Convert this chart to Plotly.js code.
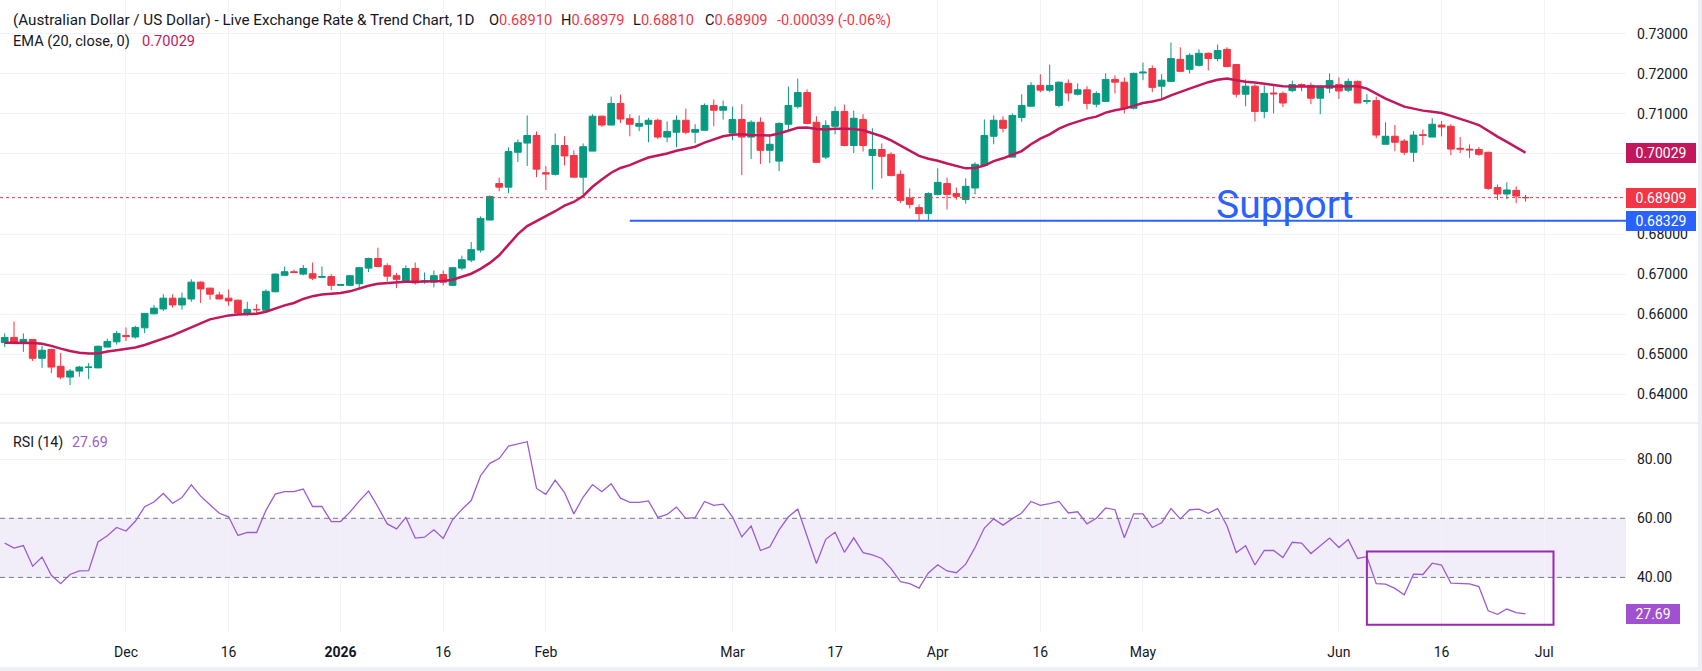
<!DOCTYPE html>
<html>
<head>
<meta charset="utf-8">
<script src="https://cdn.plot.ly/plotly-3.0.1.min.js"></script>
<style>
  html, body { margin: 0; padding: 0; background: #ffffff; }
  #chart { width: 1702px; height: 671px; }
</style>
</head>
<body>
<div id="chart"></div>
<script>
// AUD/USD daily sessions, first bar 2025-11-12 (FX trades every weekday)
const firstSession = '2025-11-12';

const opens = [
  0.6529,0.6542,0.6529,0.6537,0.6490,0.6512,0.6470,0.6443,0.6458,0.6467,
  0.6466,0.6518,0.6531,0.6547,0.6543,0.6566,0.6601,0.6613,0.6640,0.6623,
  0.6638,0.6680,0.6665,0.6648,0.6640,0.6635,0.6602,0.6612,0.6610,0.6656,
  0.6697,0.6706,0.6700,0.6701,0.6692,0.6694,0.6672,0.6672,0.6676,0.6715,
  0.6739,0.6721,0.6696,0.6680,0.6714,0.6681,0.6680,0.6699,0.6672,0.6715,
  0.6735,0.6760,0.6835,0.6926,0.6917,0.7004,0.7027,0.7046,0.6953,0.6949,
  0.7021,0.6996,0.6942,0.7007,0.7094,0.7072,0.7126,0.7088,0.7069,0.7074,
  0.7084,0.7042,0.7054,0.7084,0.7054,0.7059,0.7121,0.7109,0.7052,0.7086,
  0.7042,0.7079,0.7009,0.6982,0.7074,0.7118,0.7153,0.7079,0.6992,0.7069,
  0.7106,0.7021,0.7086,0.6996,0.7011,0.6999,0.6949,0.6890,0.6866,0.6851,
  0.6899,0.6926,0.6901,0.6886,0.6915,0.6971,0.7044,0.7084,0.6992,0.7091,
  0.7119,0.7171,0.7159,0.7121,0.7176,0.7149,0.7160,0.7124,0.7131,0.7186,
  0.7179,0.7114,0.7202,0.7213,0.7169,0.7181,0.7236,0.7211,0.7221,0.7251,
  0.7238,0.7261,0.7223,0.7149,0.7169,0.7106,0.7152,0.7151,0.7158,0.7173,
  0.7171,0.7139,0.7164,0.7173,0.7159,0.7181,0.7131,0.7133,0.7024,0.7044,
  0.7032,0.7004,0.7048,0.7042,0.7072,0.7069,0.7014,0.7012,0.7011,0.7004,
  0.6916,0.6900,0.6909,0.68910
];

const highs = [
  0.6552,0.6582,0.6552,0.6538,0.6521,0.6514,0.6503,0.6463,0.6471,0.6478,
  0.6522,0.6539,0.6558,0.6567,0.6571,0.6603,0.6623,0.6650,0.6650,0.6654,
  0.6687,0.6682,0.6666,0.6656,0.6662,0.6636,0.6631,0.6625,0.6662,0.6702,
  0.6719,0.6711,0.6723,0.6729,0.6719,0.6700,0.6675,0.6698,0.6718,0.6741,
  0.6766,0.6727,0.6703,0.6722,0.6729,0.6704,0.6709,0.6709,0.6716,0.6746,
  0.6780,0.6844,0.6896,0.6941,0.7016,0.7036,0.7096,0.7056,0.6970,0.7051,
  0.7044,0.7009,0.7026,0.7099,0.7096,0.7143,0.7148,0.7099,0.7096,0.7090,
  0.7088,0.7081,0.7096,0.7113,0.7074,0.7126,0.7136,0.7133,0.7118,0.7124,
  0.7084,0.7091,0.7048,0.7079,0.7168,0.7188,0.7161,0.7094,0.7084,0.7118,
  0.7123,0.7108,0.7099,0.7064,0.7026,0.7004,0.6959,0.6914,0.6874,0.6904,
  0.6964,0.6941,0.6916,0.6939,0.6979,0.7086,0.7096,0.7094,0.7101,0.7149,
  0.7179,0.7199,0.7223,0.7181,0.7186,0.7176,0.7169,0.7156,0.7201,0.7196,
  0.7191,0.7203,0.7228,0.7221,0.7199,0.7278,0.7266,0.7251,0.7261,0.7253,
  0.7273,0.7266,0.7223,0.7186,0.7174,0.7171,0.7169,0.7156,0.7183,0.7176,
  0.7178,0.7171,0.7201,0.7191,0.7188,0.7183,0.7149,0.7143,0.7079,0.7072,
  0.7037,0.7057,0.7061,0.7089,0.7082,0.7074,0.7042,0.7024,0.7017,0.7006,
  0.6924,0.6929,0.6919,0.68979
];

const lows = [
  0.6518,0.6525,0.6506,0.6483,0.6466,0.6453,0.6438,0.6423,0.6444,0.6438,
  0.6465,0.6517,0.6524,0.6533,0.6539,0.6553,0.6600,0.6608,0.6616,0.6611,
  0.6631,0.6628,0.6636,0.6637,0.6621,0.6600,0.6596,0.6602,0.6609,0.6655,
  0.6696,0.6703,0.6697,0.6685,0.6690,0.6660,0.6671,0.6670,0.6665,0.6705,
  0.6717,0.6682,0.6665,0.6679,0.6674,0.6676,0.6667,0.6672,0.6670,0.6710,
  0.6730,0.6754,0.6834,0.6907,0.6902,0.6980,0.6970,0.6942,0.6910,0.6946,
  0.6971,0.6942,0.6900,0.7007,0.7067,0.7072,0.7077,0.7044,0.7057,0.7029,
  0.7037,0.7029,0.7017,0.7049,0.7027,0.7059,0.7069,0.7086,0.7034,0.6947,
  0.6987,0.6975,0.6977,0.6957,0.7056,0.7113,0.7074,0.6979,0.6987,0.7049,
  0.7019,0.7002,0.7006,0.6911,0.6939,0.6944,0.6877,0.6864,0.6834,0.6834,
  0.6896,0.6861,0.6886,0.6876,0.6899,0.6969,0.7024,0.7054,0.6992,0.7080,
  0.7119,0.7154,0.7154,0.7116,0.7131,0.7146,0.7111,0.7116,0.7131,0.7151,
  0.7101,0.7111,0.7184,0.7154,0.7136,0.7181,0.7206,0.7201,0.7218,0.7208,
  0.7231,0.7216,0.7141,0.7119,0.7081,0.7089,0.7101,0.7117,0.7154,0.7156,
  0.7124,0.7099,0.7152,0.7137,0.7154,0.7127,0.7124,0.7039,0.7024,0.7007,
  0.6997,0.6980,0.7022,0.7042,0.7044,0.6997,0.7002,0.6990,0.6995,0.6910,
  0.6885,0.6887,0.6877,0.68810
];

const closes = [
  0.6542,0.6529,0.6537,0.6490,0.6510,0.6468,0.6443,0.6458,0.6468,0.6468,
  0.6520,0.6532,0.6552,0.6544,0.6567,0.6602,0.6615,0.6640,0.6623,0.6640,
  0.6680,0.6663,0.6650,0.6638,0.6633,0.6603,0.6612,0.6611,0.6657,0.6700,
  0.6706,0.6704,0.6714,0.6690,0.6694,0.6672,0.6674,0.6696,0.6716,0.6739,
  0.6719,0.6695,0.6687,0.6714,0.6678,0.6683,0.6696,0.6680,0.6716,0.6736,
  0.6761,0.6839,0.6894,0.6917,0.7006,0.7028,0.7046,0.6962,0.6950,0.7021,
  0.6995,0.6942,0.7018,0.7094,0.7072,0.7126,0.7087,0.7074,0.7076,0.7084,
  0.7042,0.7056,0.7084,0.7054,0.7061,0.7121,0.7109,0.7118,0.7086,0.7042,
  0.7079,0.7009,0.7024,0.7076,0.7121,0.7153,0.7076,0.6979,0.7071,0.7106,
  0.7021,0.7089,0.7021,0.7011,0.6994,0.6946,0.6884,0.6874,0.6851,0.6901,
  0.6929,0.6899,0.6894,0.6919,0.6974,0.7046,0.7084,0.7064,0.7096,0.7121,
  0.7171,0.7159,0.7171,0.7179,0.7152,0.7160,0.7126,0.7151,0.7186,0.7179,
  0.7114,0.7201,0.7204,0.7166,0.7184,0.7238,0.7206,0.7246,0.7251,0.7238,
  0.7258,0.7218,0.7149,0.7169,0.7106,0.7151,0.7150,0.7127,0.7173,0.7168,
  0.7139,0.7168,0.7183,0.7157,0.7181,0.7127,0.7133,0.7047,0.7044,0.7029,
  0.7004,0.7047,0.7046,0.7074,0.7067,0.7012,0.7012,0.7010,0.6999,0.6914,
  0.6900,0.6910,0.68948,0.68909
];

// EMA(20) of the close
const ema20 = [
  0.6529,0.6529,0.6529,0.6528,0.6526,0.6521,0.6514,0.6508,0.6504,0.6502,
  0.6502,0.6507,0.6510,0.6513,0.6517,0.6523,0.6531,0.6539,0.6547,0.6557,
  0.6567,0.6579,0.6587,0.6592,0.6597,0.6599,0.6600,0.6601,0.6606,0.6614,
  0.6622,0.6628,0.6638,0.6645,0.6649,0.6651,0.6653,0.6657,0.6664,0.6671,
  0.6676,0.6678,0.6679,0.6681,0.6681,0.6682,0.6682,0.6683,0.6686,0.6693,
  0.6701,0.6713,0.6728,0.6747,0.6773,0.6800,0.6820,0.6832,0.6845,0.6857,
  0.6871,0.6880,0.6895,0.6918,0.6936,0.6953,0.6965,0.6972,0.6982,0.6991,
  0.6996,0.7001,0.7008,0.7013,0.7018,0.7028,0.7036,0.7044,0.7048,0.7049,
  0.7047,0.7046,0.7046,0.7051,0.7059,0.7065,0.7066,0.7062,0.7061,0.7063,
  0.7063,0.7062,0.7059,0.7051,0.7044,0.7034,0.7021,0.7008,0.6995,0.6988,
  0.6983,0.6976,0.6970,0.6964,0.6965,0.6971,0.6982,0.6989,0.6998,0.7007,
  0.7024,0.7038,0.7049,0.7063,0.7073,0.7081,0.7088,0.7093,0.7103,0.7109,
  0.7113,0.7120,0.7127,0.7131,0.7136,0.7146,0.7155,0.7163,0.7171,0.7179,
  0.7185,0.7188,0.7184,0.7180,0.7178,0.7175,0.7173,0.7169,0.7168,0.7168,
  0.7167,0.7167,0.7168,0.7168,0.7169,0.7169,0.7163,0.7150,0.7138,0.7128,
  0.7118,0.7113,0.7108,0.7105,0.7102,0.7095,0.7088,0.7080,0.7072,0.7057,
  0.7043,0.7030,0.7017,0.70029
];

// RSI(14)
const rsi14 = [
  51.6,49.9,50.8,43.8,46.9,40.7,37.9,41.0,42.2,42.3,
  52.0,54.1,56.9,55.7,59.0,63.9,65.5,68.4,65.1,67.0,
  71.3,67.5,64.6,61.7,60.5,54.2,55.2,55.2,62.7,68.2,
  69.0,69.0,69.9,64.0,64.0,58.9,58.9,62.1,65.8,69.2,
  63.9,58.1,56.4,60.3,53.3,53.6,56.1,53.2,59.5,63.0,
  66.0,74.4,78.6,80.2,84.4,85.2,85.9,70.1,68.1,72.9,
  68.7,61.5,67.2,71.4,69.0,71.7,66.8,65.4,65.4,65.9,
  60.3,61.3,63.8,60.0,60.2,65.7,64.4,64.8,60.5,53.7,
  57.4,49.1,50.3,56.1,60.5,63.1,53.8,44.7,52.9,55.3,
  48.5,53.4,48.4,47.6,46.4,43.0,38.6,37.9,36.4,41.5,
  44.3,42.2,41.6,44.5,50.1,56.7,59.8,57.7,59.9,61.8,
  65.7,64.4,65.0,65.7,61.8,62.2,58.1,60.0,63.5,62.9,
  53.4,61.5,61.5,56.9,58.5,63.3,59.8,62.9,63.1,61.7,
  63.3,57.5,48.4,50.7,44.2,49.1,49.1,46.7,51.9,51.6,
  48.1,50.8,53.3,50.1,52.8,46.4,47.0,37.9,37.7,36.3,
  34.1,41.1,41.0,44.8,44.2,38.1,38.0,37.8,36.9,28.7,
  27.5,29.3,28.1,27.69
];

const supportLevel = 0.68329;
const supportFrom = '2026-02-13';
const rsiBand = [40, 60];
const rsiBox = { from: '2026-06-04', to: '2026-07-02', low: 24, high: 48.8 };

const timeTicks = ['2025-12-01','2025-12-16','2026-01-01','2026-01-16','2026-02-02','2026-03-02',
                   '2026-03-17','2026-04-01','2026-04-16','2026-05-01','2026-06-01','2026-06-16','2026-07-01'];
const timeLabels = ['Dec','16','<b>2026</b>','16','Feb','Mar','17','Apr','16','May','Jun','16','Jul'];
const priceTicks = [0.64,0.65,0.66,0.67,0.68,0.69,0.70,0.71,0.72,0.73];
const rsiTicks = [40, 60, 80];

// Weekday session list (axis runs a couple of weeks past the last bar)
function weekdaySessions(startISO, count) {
  const out = [];
  const d = new Date(startISO + 'T00:00:00Z');
  while (out.length < count) {
    const wd = d.getUTCDay();
    if (wd !== 0 && wd !== 6) out.push(d.toISOString().slice(0, 10));
    d.setUTCDate(d.getUTCDate() + 1);
  }
  return out;
}
const axisSessions = weekdaySessions(firstSession, 178);
const barDates = axisSessions.slice(0, closes.length);
const last = closes.length - 1;

const FONT = 'Roboto, "Open Sans", sans-serif';
const INK = '#131722';
const UP = '#089981', DOWN = '#f23645';
const EMA_COL = '#c2185b', RSI_COL = '#9c5bd4', RSI_TAG = '#a150cf', SUP_COL = '#2962ff';
const GRID = '#f0f3fa';

// pixel helpers for paper-anchored overlay text (plot area 1626 x 633)
const PW = 1626, PH = 633;
const px = v => v / PW;
const py = v => (PH - v) / PH;

const f5 = v => v.toFixed(5);
const chg = closes[last] - closes[last - 1];
const chgPct = chg / closes[last - 1] * 100;
const red = s => '<span style="color:' + DOWN + '">' + s + '</span>';

const traces = [
  {
    type: 'candlestick', x: barDates,
    open: opens, high: highs, low: lows, close: closes,
    xaxis: 'x', yaxis: 'y',
    increasing: { line: { color: UP, width: 1 }, fillcolor: UP },
    decreasing: { line: { color: DOWN, width: 1 }, fillcolor: DOWN },
    whiskerwidth: 0, hoverinfo: 'skip', showlegend: false
  },
  {
    type: 'scatter', mode: 'lines', x: barDates, y: ema20,
    xaxis: 'x', yaxis: 'y',
    line: { color: EMA_COL, width: 2.5 }, hoverinfo: 'skip', showlegend: false
  },
  {
    type: 'scatter', mode: 'lines', x: barDates, y: rsi14,
    xaxis: 'x', yaxis: 'y2',
    line: { color: RSI_COL, width: 1.3 }, hoverinfo: 'skip', showlegend: false
  }
];

const idx = d => axisSessions.indexOf(d);

const shapes = [
  // RSI 40-60 band
  { type: 'rect', xref: 'paper', yref: 'y2', x0: 0, x1: 1, y0: rsiBand[0], y1: rsiBand[1],
    fillcolor: 'rgba(126,87,194,0.10)', line: { width: 0 }, layer: 'below' },
  { type: 'line', xref: 'paper', yref: 'y2', x0: 0, x1: 1, y0: rsiBand[1], y1: rsiBand[1],
    line: { color: '#787b86', width: 1, dash: '5px,4px' } },
  { type: 'line', xref: 'paper', yref: 'y2', x0: 0, x1: 1, y0: rsiBand[0], y1: rsiBand[0],
    line: { color: '#787b86', width: 1, dash: '5px,4px' } },
  // last close
  { type: 'line', xref: 'paper', yref: 'y', x0: 0, x1: 1, y0: closes[last], y1: closes[last],
    line: { color: DOWN, width: 1, dash: 'dot' } },
  // support level
  { type: 'line', xref: 'x', yref: 'y', x0: idx(supportFrom), x1: axisSessions.length - 1,
    y0: supportLevel, y1: supportLevel, line: { color: SUP_COL, width: 2 } },
  // RSI highlight box
  { type: 'rect', xref: 'x', yref: 'y2', x0: idx(rsiBox.from), x1: idx(rsiBox.to),
    y0: rsiBox.low, y1: rsiBox.high, line: { color: '#9c27b0', width: 2 }, fillcolor: 'rgba(0,0,0,0)' },
  // pane separator
  { type: 'line', xref: 'paper', yref: 'paper', x0: 0, x1: px(1698), y0: py(423), y1: py(423),
    line: { color: '#e0e3eb', width: 1 } },
  // frame edges
  { type: 'rect', xref: 'paper', yref: 'paper', x0: px(1698), x1: px(1702), y0: py(671), y1: py(0),
    fillcolor: '#eeeff4', line: { width: 0 } },
  { type: 'rect', xref: 'paper', yref: 'paper', x0: 0, x1: px(1702), y0: py(671), y1: py(667),
    fillcolor: '#eeeff4', line: { width: 0 } }
];

const txt = (x, y, text, color, size) => ({
  xref: 'paper', yref: 'paper', x: px(x), y: py(y), xanchor: 'left', yanchor: 'middle',
  text: text, showarrow: false, font: { family: FONT, size: size || 14, color: color || INK }
});
const tag = (yref, y, text, bg, w) => ({
  xref: 'paper', yref: yref, x: 1, y: y, xanchor: 'left', yanchor: 'middle',
  text: text, showarrow: false, bgcolor: bg, borderpad: 3, borderwidth: 0,
  width: w, height: 14, align: 'center',
  font: { family: FONT, size: 14, color: '#ffffff' }
});

const annotations = [
  txt(11, 19.5, '(Australian Dollar / US Dollar) - Live Exchange Rate &amp; Trend Chart, 1D', INK, 15.2),
  txt(487, 19.5, 'O' + red(f5(opens[last])), INK, 14.6),
  txt(559, 19.5, 'H' + red(f5(highs[last])), INK, 14.6),
  txt(631, 19.5, 'L' + red(f5(lows[last])), INK, 14.6),
  txt(703, 19.5, 'C' + red(f5(closes[last])), INK, 14.6),
  txt(775, 19.5, red(f5(chg) + ' (' + chgPct.toFixed(2) + '%)'), INK, 14.6),
  txt(11, 41, 'EMA (20, close, 0)', INK, 14.6),
  txt(140, 41, f5(ema20[last]), EMA_COL, 14.6),
  txt(11, 442, 'RSI (14)', INK, 14.2),
  txt(70, 442, rsi14[last].toFixed(2), RSI_COL, 14.2),
  txt(1214, 205, 'Support', SUP_COL, 39),
  tag('y', ema20[last], f5(ema20[last]), EMA_COL, 64),
  tag('y', closes[last], f5(closes[last]), DOWN, 64),
  tag('y', supportLevel, f5(supportLevel), SUP_COL, 64),
  tag('y2', rsi14[last], rsi14[last].toFixed(2), RSI_TAG, 48)
];

const layout = {
  width: 1702, height: 671,
  margin: { l: 0, r: 76, t: 0, b: 38 },
  paper_bgcolor: '#ffffff', plot_bgcolor: '#ffffff',
  showlegend: false, hovermode: false, dragmode: false,
  boxgap: 0.1, boxgroupgap: 0.2,
  font: { family: FONT, color: INK, size: 14 },
  xaxis: {
    type: 'category', categoryorder: 'array', categoryarray: axisSessions,
    range: [-0.504, 173.77], anchor: 'y2',
    tickmode: 'array', tickvals: timeTicks, ticktext: timeLabels,
    showgrid: true, gridcolor: GRID, gridwidth: 1, zeroline: false, showline: false,
    ticks: '', ticklabelstandoff: 9, automargin: false,
    tickfont: { family: FONT, size: 14, color: INK },
    rangeslider: { visible: false }, fixedrange: true
  },
  yaxis: {
    domain: [py(423), 1], range: [0.632846, 0.738410], side: 'right', anchor: 'x',
    tickmode: 'array', tickvals: priceTicks, ticktext: priceTicks.map(v => v.toFixed(5)),
    showgrid: true, gridcolor: GRID, zeroline: false, showline: false,
    ticks: '', ticklabelstandoff: 10, automargin: false,
    tickfont: { family: FONT, size: 14, color: INK }, fixedrange: true
  },
  yaxis2: {
    domain: [0, py(424)], range: [21.2, 91.9], side: 'right', anchor: 'x',
    tickmode: 'array', tickvals: rsiTicks, ticktext: rsiTicks.map(v => v.toFixed(2)),
    showgrid: true, gridcolor: GRID, zeroline: false, showline: false,
    ticks: '', ticklabelstandoff: 10, automargin: false,
    tickfont: { family: FONT, size: 14, color: INK }, fixedrange: true
  },
  shapes: shapes,
  annotations: annotations
};

Plotly.newPlot('chart', traces, layout, { staticPlot: true, displayModeBar: false });
</script>
</body>
</html>
